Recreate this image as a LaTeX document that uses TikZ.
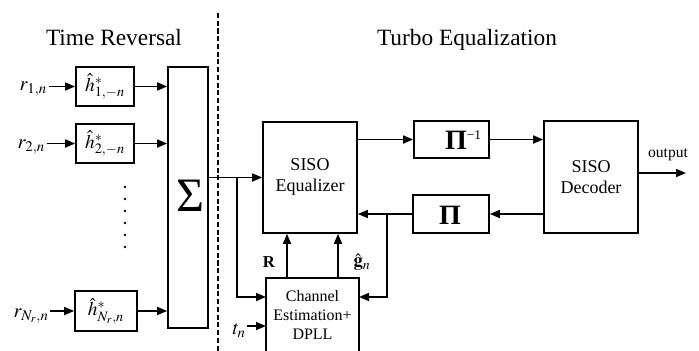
\documentclass[tikz,border=0pt]{standalone}
\usepackage{mathptmx}
\usepackage{fontspec}
\setmainfont{Liberation Serif}
\usetikzlibrary{arrows.meta}
\tikzset{
  blk/.style={draw, line width=1.25pt, inner sep=0pt},
  arr/.style={line width=1.25pt, -{Triangle[length=7.5pt,width=6pt]}},
  ln/.style={line width=1.25pt},
  title/.style={font=\fontsize{17.5}{20}\selectfont, anchor=base},
  mlab/.style={font=\fontsize{15}{18}\selectfont, inner sep=1pt},
  btxt/.style={font=\fontsize{13.5}{16}\selectfont, align=center},
  stxt/.style={font=\fontsize{12}{14.25}\selectfont, align=center},
  pitxt/.style={font=\fontsize{21}{21}\selectfont\bfseries}
}
\begin{document}
\begin{tikzpicture}[x=0.75pt,y=-0.75pt]
\clip (0,0) rectangle (699,350);
% titles
\node[title] (tr) at (114,45) {Time Reversal};
\node[title] (te) at (467,45) {Turbo Equalization};
\draw[line width=0.8pt, dash pattern=on 3.8pt off 2pt] (218,13) -- (218,352);
% time reversal blocks
\node[blk, minimum width=43.5pt, minimum height=29.25pt, font=\fontsize{14.5}{16}\selectfont] (h1) at (105,86.5) {$\hat{h}^{*}_{1,-n}$};
\node[blk, minimum width=43.5pt, minimum height=29.25pt, font=\fontsize{14.5}{16}\selectfont] (h2) at (105,143.5) {$\hat{h}^{*}_{2,-n}$};
\node[blk, minimum width=46.5pt, minimum height=30pt, font=\fontsize{14.5}{16}\selectfont] (hN) at (106,311) {$\hat{h}^{*}_{N_r,n}$};
\node[mlab, anchor=base west] (r1) at (18,90) {$r_{1,n}$};
\node[mlab, anchor=base west] (r2) at (16,148) {$r_{2,n}$};
\node[mlab, anchor=base west] (rN) at (12,317) {$r_{N_r,n}$};
\node[blk, minimum width=30pt, minimum height=195.75pt] (sum) at (188,197.5) {};
\node[font=\fontsize{36}{36}\selectfont] (sig) at (190.5,195.5) {Σ};
\foreach \yy in {187,199,211,223,235,247} \fill (125,\yy) circle (1.4);
\draw[arr] (r1.east |- h1.west) -- (h1.west);
\draw[arr] (r2.east |- h2.west) -- (h2.west);
\draw[arr] (rN.east |- hN.west) -- (hN.west);
\draw[arr] (h1.east) -- (h1.east -| sum.west);
\draw[arr] (h2.east) -- (h2.east -| sum.west);
\draw[arr] (hN.east) -- (hN.east -| sum.west);
% turbo equalization
\node[blk, minimum width=70.5pt, minimum height=83.25pt] (eq) at (310,177.5) {};
\node[btxt] (eqlab) at (310,177) {SISO\\Equalizer};
\node[blk, minimum width=70.5pt, minimum height=84pt] (dec) at (591,177) {};
\node[btxt] (declab) at (591,177) {SISO\\Decoder};
\node[blk, minimum width=69.75pt, minimum height=75pt] (ch) at (312.5,328) {};
\node[stxt] (chlab) at (312.5,315) {Channel\\Estimation+\\DPLL};
\node[blk, minimum width=56.25pt, minimum height=27.75pt] (pinv) at (451.5,139.5) {};
\node[inner sep=0pt] (pinvlab) at (463,140) {{\fontsize{21}{21}\selectfont\bfseries Π}\raisebox{7pt}{\fontsize{10}{10}\selectfont −1}};
\node[blk, minimum width=57pt, minimum height=28.5pt] (pi) at (451,214) {};
\node[pitxt, inner sep=0pt] (pilab) at (450,215) {Π};
% coordinates
\coordinate (b1) at (237,177.5);
\coordinate (chin1) at (266,297);
\coordinate (chin2) at (359,297);
\coordinate (chin3) at (266,326);
\coordinate (rx) at (287,0);
\coordinate (gx) at (338,0);
\coordinate (bx) at (387,0);
\coordinate (outend) at (686,173);
\node[mlab, anchor=base west] (tn) at (231,334) {$t_n$};
\node[font=\fontsize{12.5}{14}\selectfont\bfseries] (Rlab) at (269,262.5) {R};
\node[mlab, font=\fontsize{14}{16}\selectfont] (glab) at (362,262) {$\hat{\mathbf{g}}_n$};
\node[font=\fontsize{11.7}{14}\selectfont, anchor=base] (outlab) at (668,157) {output};
% connectors
\draw[arr] (sum.east |- eq.west) -- (eq.west);
\draw[arr] (b1) |- (chin1);
\draw[arr] (tn.east |- chin3) -- (chin3);
\draw[arr] (rx |- ch.north) -- (rx |- eq.south);
\draw[arr] (gx |- ch.north) -- (gx |- eq.south);
\draw[arr] (eq.east |- pinv.west) -- (pinv.west);
\draw[arr] (pinv.east) -- (pinv.east -| dec.west);
\draw[arr] (dec.west |- pi.east) -- (pi.east);
\draw[arr] (pi.west) -- (pi.west -| eq.east);
\draw[arr] (bx |- pi.west) |- (chin2);
\draw[arr] (dec.east |- outend) -- (outend);
\end{tikzpicture}
\end{document}
